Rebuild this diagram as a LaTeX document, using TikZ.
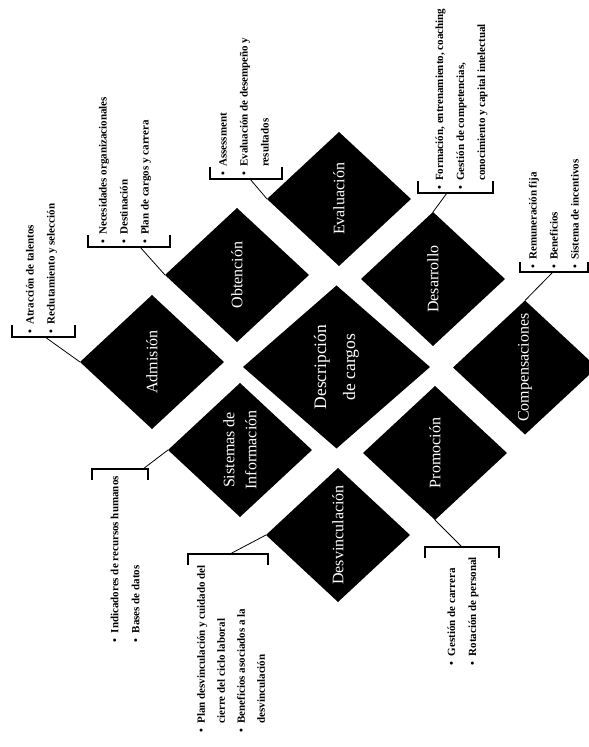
\documentclass[tikz,border=0pt]{standalone}
\usepackage{fontspec}
\setmainfont{Liberation Serif}
\usetikzlibrary{shapes.geometric}
% bullet and hanging indent for the item lists
\newcommand\lbul{\makebox[9pt][l]{\textbullet}}
\newcommand\lind{\hspace*{9pt}}
\begin{document}
\begin{tikzpicture}[x=1pt,y=1pt,
  stage/.style={shape=diamond, fill=black, draw=none, inner sep=0pt, outer sep=0pt,
    rotate=90, minimum width=134pt, minimum height=144pt, text=white, align=center,
    font=\fontsize{16}{22}\selectfont},
  hub/.style={stage, minimum width=163pt, minimum height=187pt,
    font=\fontsize{17.5}{29}\selectfont},
  items/.style={rotate=90, inner sep=0pt, align=left,
    font=\bfseries\fontsize{11}{21}\selectfont},
  bracket/.style={line width=1.2pt},
  link/.style={line width=0.8pt}]
\clip (0,0) rectangle (589,747);
\fill[white] (0,0) rectangle (589,747);

% stages of the cycle
\node[stage] (adm) at (152,385)   {Admisión};
\node[stage] (obt) at (237,472)   {Obtención};
\node[stage] (eva) at (339,548)   {Evaluación};
\node[stage] (sis) at (240,297)   {Sistemas de\\Información};
\node[hub]   (des) at (336.5,380) {Descripción\\de cargos};
\node[stage] (dsr) at (433,468)   {Desarrollo};
\node[stage] (dsv) at (338,212)   {Desvinculación};
\node[stage] (pro) at (435,294)   {Promoción};
\node[stage] (com) at (525,379.5) {Compensaciones};

% brackets holding the item lists
\draw[bracket] (12,422) -- (12,410) -- (75,410) -- (75,422);
\draw[bracket] (88,512) -- (88,500) -- (170,500) -- (170,512);
\draw[bracket] (210,580) -- (210,568) -- (282,568) -- (282,580);
\draw[bracket] (418,566) -- (418,554) -- (493,554) -- (493,566);
\draw[bracket] (520,485) -- (520,475) -- (588,475) -- (588,485);
\draw[bracket] (92,267) -- (92,278) -- (148,278) -- (148,267);
\draw[bracket] (188,182) -- (188,193) -- (268,193) -- (268,182);
\draw[bracket] (425,189) -- (425,200) -- (499,200) -- (499,189);

\coordinate (cAdm) at (45,410);
\coordinate (cObt) at (140,500);
\coordinate (cEva) at (250,568);
\coordinate (cDsr) at (447,554);
\coordinate (cCom) at (553,475);
\coordinate (cSis) at (143,278);
\coordinate (cDsv) at (230,193);
\coordinate (cPro) at (462,200);

% leaders from each bracket to its stage
\draw[link] (cAdm) -- (adm.north);
\draw[link] (cObt) -- (obt.north);
\draw[link] (cEva) -- (eva.north);
\draw[link] (cDsr) -- (dsr.east);
\draw[link] (cCom) -- (com.east);
\draw[link] (cSis) -- (sis.north);
\draw[link] (cDsv) -- (dsv.north);
\draw[link] (cPro) -- (pro.west);

% item lists
\node[items, anchor=west] (lAdm) at (41.5,413)
  {\lbul Atracción de talentos\\\lbul Reclutamiento y selección};
\node[items, anchor=west] (lObt) at (125,503)
  {\lbul Necesidades organizacionales\\\lbul Destinación\\\lbul Plan de cargos y carrera};
\node[items, anchor=west] (lEva) at (244,571)
  {\lbul Assessment\\\lbul Evaluación de desempeño y\\\lind resultados};
\node[items, anchor=west] (lDsr) at (461.5,557)
  {\lbul Formación, entrenamiento, coaching\\\lbul Gestión de competencias,\\\lind conocimiento y capital intelectual};
\node[items, anchor=west] (lCom) at (553.7,478)
  {\lbul Remuneración fija\\\lbul Beneficios\\\lbul Sistema de incentivos};
\node[items, anchor=east] (lSis) at (125,271)
  {\lbul Indicadores de recursos humanos\\\lbul Bases de datos};
\node[items, anchor=east, font=\bfseries\fontsize{11}{20}\selectfont] (lDsv) at (231,182)
  {\lbul Plan desvinculación y cuidado del\\\lind cierre del ciclo laboral\\\lbul Beneficios asociados a la\\\lind desvinculación};
\node[items, anchor=east] (lPro) at (463,190)
  {\lbul Gestión de carrera\\\lbul Rotación de personal};
\end{tikzpicture}
\end{document}
